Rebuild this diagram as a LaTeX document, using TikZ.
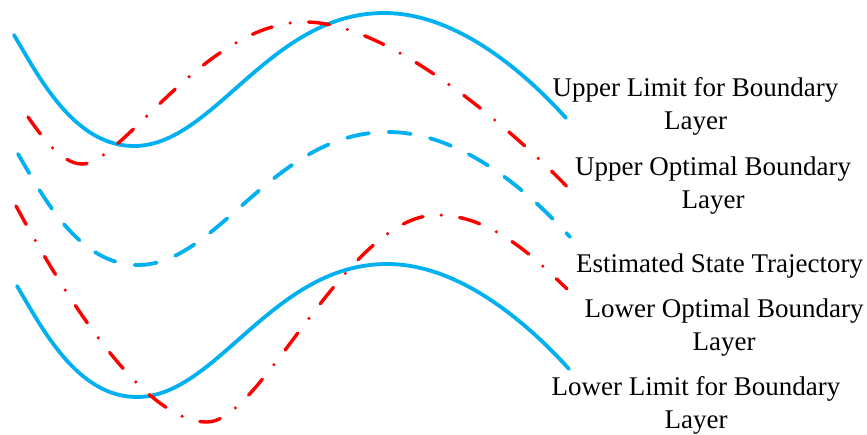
\documentclass[tikz,border=0pt]{standalone}
\usepackage{fontspec}
\setmainfont{Liberation Serif}
\definecolor{skyc}{HTML}{00B0F0}
\definecolor{redc}{HTML}{FF0000}
\tikzset{
  solidc/.style={draw=skyc,line width=3.8pt,line cap=round},
  dashc/.style={draw=skyc,line width=3.8pt,line cap=round,dash pattern=on 22.3pt off 19.7pt},
  dotdash/.style={draw=redc,line width=3.4pt,line cap=round,dash pattern=on 21pt off 18.5pt on 0pt off 18.5pt},
  lbl/.style={inner sep=0pt,anchor=base,align=center,font=\fontsize{27}{33}\selectfont}
}
\begin{document}
\begin{tikzpicture}[x=1pt,y=-1pt]
\useasboundingbox (0,0) rectangle (867,434);
% common boundary shape
\def\boundcurve{(14,35) .. controls (39,77) and (74,146) .. (134,146)
  .. controls (214,146) and (269,13) .. (384,13)
  .. controls (459,13) and (528,76) .. (566,118)}
% upper limit
\draw[solidc] \boundcurve;
% upper optimal (dashed)
\begin{scope}[shift={(4,119)}]
\draw[dashc] \boundcurve;
\end{scope}
% lower limit
\begin{scope}[shift={(3,251)}]
\draw[solidc] \boundcurve;
\end{scope}
% upper red dash-dot
\draw[dotdash] (28,117) .. controls (42,137) and (62,164) .. (82,164)
  .. controls (122,164) and (205,22) .. (305,22)
  .. controls (395,22) and (528,145) .. (573,193);
% lower red dash-dot
\draw[dotdash] (16,206) .. controls (51,270) and (137,422) .. (207,422)
  .. controls (262,422) and (347,215) .. (437,215)
  .. controls (492,215) and (537,260) .. (567,289);
% labels (base = baseline of last line)
\node[lbl] (ul) at (695.5,129) {Upper Limit for Boundary\\Layer};
\node[lbl] (uo) at (713,208) {Upper Optimal Boundary\\Layer};
\node[lbl] (es) at (719.5,272) {Estimated State Trajectory};
\node[lbl] (lo) at (724,350) {Lower Optimal Boundary\\Layer};
\node[lbl] (ll) at (696,428) {Lower Limit for Boundary\\Layer};
\end{tikzpicture}
\end{document}
